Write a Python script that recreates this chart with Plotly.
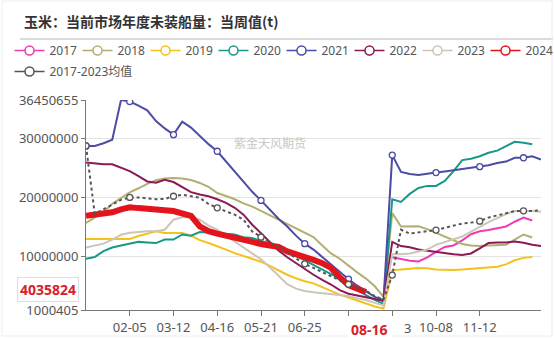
import datetime as dt
import plotly.graph_objects as go

# weekly x grid (calendar of the marketing-year chart), 01-01 .. 12-31
start = dt.date(2023, 1, 1)
dates = [(start + dt.timedelta(days=7 * i)).isoformat() for i in range(53)]

tick_dates = ["2023-02-05", "2023-03-12", "2023-04-16", "2023-05-21", "2023-06-25",
              "2023-07-30", "2023-09-03", "2023-10-08", "2023-11-12"]
# 07-30 / 09-03 are covered by the 08-16 pointer label in the reference
tick_text = ["02-05", "03-12", "04-16", "05-21", "06-25", "", "", "10-08", "11-12"]

y_ticks = [1000405, 10000000, 20000000, 30000000, 36450655]
y_tick_text = ["1000405", "10000000", "20000000", "30000000", "36450655"]

N = None
# values in million tonnes
v2017 = [N] * 35 + [9.9, 9.65, 9.3, 9.2, 9.9, 10.8, 11.65, 11.9, 12.75, 13.8, 14.3, 14.5,
                    14.75, 15.1, 15.9, 16.6, 16.1, N]
v2018 = [15.7, 16.6, 17.5, 18.95, 19.95, 20.85, 21.55, 22.3, 22.9, 23.2, 23.3, 23.2, 22.95,
         22.45, 21.8, 20.75, 20.25, 19.7, 19.0, 18.45, 17.75, 17.0, 16.25, 15.5, 14.8, 14.0,
         13.3, 11.9, 10.55, 9.65, 8.45, 7.35, 6.3, 5.0, 3.2, 17.35, 15.1, 15.1, 15.15, 14.65,
         14.05, 13.4, 12.8, 12.15, 11.9, 11.8, 11.9, 11.9, 12.0, 12.9, 13.75, 13.25, N]
v2019 = [13.0, 13.0, 13.0, 13.0, 13.0, 13.0, 13.5, 13.9, 14.3, 14.0, 14.0, 14.0, 13.55, 12.8,
         12.3, 11.8, 11.2, 10.6, 10.15, 9.7, 9.15, 8.45, 7.7, 6.95, 6.35, 5.85, 5.5, 4.85, 4.2,
         3.6, 3.1, 2.6, 2.1, 1.6, 1.25, 7.7, 7.85, 8.0, 8.1, 8.05, 7.85, 7.8, 7.75, 7.85, 7.95,
         8.0, 8.1, 8.3, 8.7, 9.4, 9.8, 9.95, N]
v2020 = [9.65, 9.95, 10.95, 11.55, 11.9, 12.15, 12.5, 12.4, 12.3, 12.9, 12.9, 13.75, 13.55,
         14.15, 14.05, 13.9, 13.75, 13.75, 13.3, 13.15, 12.65, 12.25, 11.55, 10.95, 10.15, 9.4,
         8.55, 7.8, 7.1, 6.3, 5.35, 4.35, 3.5, 2.7, 2.0, 19.7, 19.25, 20.6, 21.6, 21.95, 21.95,
         22.8, 24.45, 26.3, 26.55, 26.95, 27.55, 27.9, 28.65, 29.4, 29.25, 29.0, N]
v2021 = [28.7, 28.7, 29.15, 29.75, 36.450655, 36.2, 35.5, 34.7, 32.9, 31.65, 30.6, 32.8, 31.8,
         30.4, 29.0, 27.8, 26.1, 24.3, 22.6, 20.95, 19.5, 17.9, 16.4, 15.1, 13.55, 12.2, 11.2,
         9.95, 8.7, 7.35, 6.2, 5.1, 4.1, 3.2, 2.65, 27.15, 24.3, 23.95, 23.8, 24.05, 24.2, 24.4,
         24.6, 24.9, 25.05, 25.2, 25.45, 25.8, 26.05, 26.7, 26.7, 26.95, 26.4]
v2022 = [25.9, 25.7, 25.6, 25.6, 25.05, 24.45, 23.6, 22.7, 22.5, 23.0, 22.6, 21.8, 20.9, 20.5,
         20.2, 19.7, 19.1, 18.25, 17.1, 15.4, 13.9, 12.4, 11.05, 9.9, 8.9, 7.85, 6.95, 6.1, 5.3,
         4.35, 3.75, 3.45, 3.2, 2.85, 2.5, 12.5, 11.8, 11.6, 11.2, 11.0, 10.8, 10.55, 10.4, 10.3,
         10.55, 11.4, 12.3, 12.4, 12.4, 12.55, 12.35, 12.0, 11.8]
v2023 = [11.55, 11.9, 12.2, 12.9, 13.7, 14.05, 14.2, 14.3, 14.3, 14.55, 16.25, 16.65, 16.65,
         16.25, 15.25, 14.55, 13.55, 12.55, 11.55, 10.55, 9.55, 8.2, 6.7, 5.35, 4.6, 4.2, 4.0,
         3.85, 3.75, 3.6, 3.35, 3.0, 2.7, 2.2, 1.75, 10.4, 10.4, 10.55, 10.9, 11.2, 12.0, 12.5,
         12.9, 13.4, 14.25, 15.1, 15.85, 16.5, 17.2, 17.7, 17.75, 17.7, 17.6]
v2024 = [16.9, 17.1, 17.25, 17.5, 18.0, 18.35, 18.2, 18.0, 17.9, 17.85, 17.7, 17.4, 16.9, 15.1,
         14.3, 13.9, 13.5, 13.15, 12.8, 12.5, 12.15, 11.9, 11.65, 10.9, 10.5, 9.9, 9.45, 8.9,
         8.1, 6.5, 5.2, 4.6, 4.035824] + [N] * 20
vavg = [28.7, 17.25, 18.0, 18.75, 19.6, 20.0, 20.0, 19.85, 19.7, 19.75, 20.2, 20.45, 20.25,
        19.95, 18.9, 18.25, 17.65, 17.1, 16.25, 14.25, 13.3, 12.35, 11.55, 10.8, 9.7, 8.8, 8.1,
        7.35, 6.6, 6.0, 5.35, 4.85, 4.25, 3.35, 2.75, 6.9, 14.55, 13.9, 14.15, 14.3, 14.5, 14.9,
        15.25, 15.6, 15.75, 16.0, 16.6, 17.0, 17.4, 17.7, 17.75, 17.7, 17.85]

names = ["2017", "2018", "2019", "2020", "2021", "2022", "2023", "2024"]
colors = ["#f03cb4", "#b3af72", "#f5c21b", "#17998a", "#4b4ca3", "#8b1a55", "#cdc5b8", "#e3141c"]
widths = [2, 2, 2, 2, 2, 2, 2, 6]
values = [v2017, v2018, v2019, v2020, v2021, v2022, v2023, v2024]
avg_name = "2017-2023均值"
avg_color = "#555555"

pointer_date = "2023-08-16"
pointer_label = "08-16"
pointer_value = 4035824

for v in values + [vavg]:
    assert len(v) == len(dates), len(v)


def tonnes(v):
    return [None if a is None else a * 1e6 for a in v]


FONT = "Noto Sans, Noto Sans CJK SC, sans-serif"
fig = go.Figure()

mark_size = [6 if i % 5 == 0 else 0 for i in range(len(dates))]
mark_op = [1 if i % 5 == 0 else 0 for i in range(len(dates))]

for nm, col, w, v in zip(names, colors, widths, values):
    if nm == "2021":
        fig.add_trace(go.Scatter(
            x=dates, y=tonnes(v), mode="lines+markers", showlegend=False,
            line=dict(color=col, width=w),
            marker=dict(size=mark_size, opacity=mark_op, color="white",
                        line=dict(color=col, width=1.3)),
            hoverinfo="skip"))
    else:
        fig.add_trace(go.Scatter(
            x=dates, y=tonnes(v), mode="lines", showlegend=False,
            line=dict(color=col, width=w), hoverinfo="skip"))

fig.add_trace(go.Scatter(
    x=dates, y=tonnes(vavg), mode="lines+markers", showlegend=False,
    line=dict(color=avg_color, width=2, dash="dot"),
    marker=dict(size=mark_size, opacity=mark_op, color="white",
                line=dict(color=avg_color, width=1.3)),
    hoverinfo="skip"))

# legend entries
for nm, col in zip(names, colors):
    fig.add_trace(go.Scatter(
        x=[None], y=[None], mode="lines+markers", name=nm, legend="legend",
        line=dict(color=col, width=1.5),
        marker=dict(size=9, color="white", line=dict(color=col, width=1.5))))
fig.add_trace(go.Scatter(
    x=[None], y=[None], mode="lines+markers", name=avg_name, legend="legend2",
    line=dict(color=avg_color, width=1.5),
    marker=dict(size=9, color="white", line=dict(color=avg_color, width=1.5))))

L, R, T, B = 86, 13, 100, 28
PW, PH = 554 - L - R, 338 - T - B


def px(x):
    return (x - L) / PW


def py(y):
    return (338 - B - y) / PH


fig.update_layout(
    width=554, height=338,
    margin=dict(l=L, r=R, t=T, b=B, autoexpand=False),
    paper_bgcolor="white", plot_bgcolor="white",
    font=dict(family=FONT, size=12, color="#555"),
    title=dict(text="玉米：当前市场年度未装船量：当周值(t)", x=24 / 554, xanchor="left",
               y=1 - 22 / 338, yanchor="middle",
               font=dict(family="Noto Sans CJK SC", size=14, color="#333", weight="bold")),
    legend=dict(orientation="h", x=px(9.5), xanchor="left", y=py(36), yanchor="top",
                entrywidth=23, entrywidthmode="pixels", font=dict(size=12, color="#555"),
                bgcolor="rgba(0,0,0,0)"),
    legend2=dict(orientation="h", x=px(9.5), xanchor="left", y=py(57), yanchor="top",
                 font=dict(size=12, color="#555"), bgcolor="rgba(0,0,0,0)"),
    xaxis=dict(type="date", range=["2023-01-01", "2023-12-31"], tickvals=tick_dates,
               ticktext=tick_text, showgrid=False, showline=True, linecolor="#777",
               linewidth=1, ticks="outside", ticklen=5, tickcolor="#777", automargin=False,
               tickfont=dict(size=13, color="#555"), zeroline=False),
    yaxis=dict(range=[1000405, 36450655], tickvals=y_ticks, ticktext=y_tick_text,
               showgrid=True, gridcolor="#e3e3e3", gridwidth=1, showline=True,
               linecolor="#777", linewidth=1, ticks="outside", ticklen=4, tickcolor="#777",
               automargin=False, tickfont=dict(size=13, color="#555"), zeroline=False),
    shapes=[
        dict(type="line", xref="paper", yref="paper", x0=px(20), x1=px(553),
             y0=py(39), y1=py(39), line=dict(color="#cfcfcf", width=1.5)),
        dict(type="rect", xref="paper", yref="paper", x0=px(2), x1=px(552),
             y0=py(336), y1=py(1), line=dict(color="#ececec", width=1)),
    ],
    annotations=[
        dict(text="紫金天风期货", xref="paper", yref="paper", x=px(270), y=py(133),
             showarrow=False, font=dict(size=12, color="#c8c8c8")),
        dict(text="<b>%d</b>" % pointer_value, xref="paper", yref="y", x=0, y=pointer_value,
             xanchor="right", xshift=-7, yshift=3, showarrow=False,
             font=dict(size=14, color="#d8202b"), bgcolor="white",
             bordercolor="#dddddd", borderwidth=1, borderpad=2),
        dict(text="<b>%s</b>" % pointer_label, xref="x", yref="paper", x=pointer_date, y=0,
             yanchor="top", yshift=-6, showarrow=False,
             font=dict(size=14, color="#d8202b"), bgcolor="white", borderpad=3),
        # visible tail of the "09-03" tick label peeking out from under the pointer label
        dict(text="3", xref="paper", yref="paper", x=px(402), y=0, xanchor="left",
             yanchor="top", yshift=-7, showarrow=False, font=dict(size=13, color="#555")),
    ],
)

fig.write_html("out.html")
